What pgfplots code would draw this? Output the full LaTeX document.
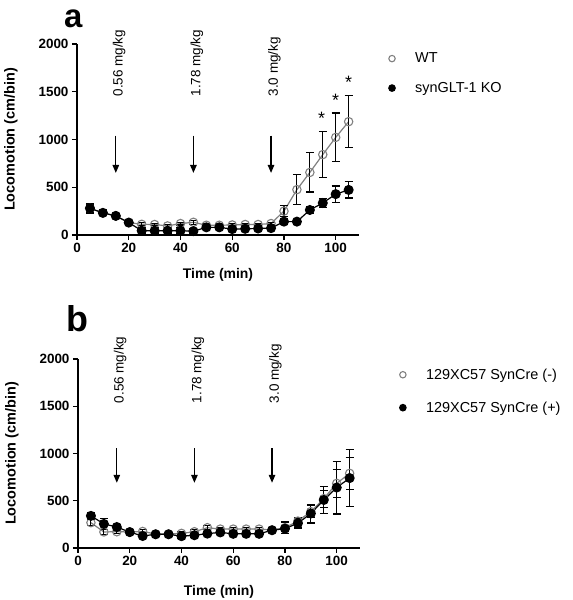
\documentclass[border=0pt]{standalone}
\usepackage{pgfplots}
\pgfplotsset{compat=1.18}
\usepackage{pgfplotstable}
\usepackage{fontspec}
\setmainfont{Liberation Sans}
\usetikzlibrary{arrows.meta}

\pgfplotstableread{
x y e
5 280 40
10 230 30
15 200 25
20 130 20
25 112 15
30 110 15
35 95 15
40 120 15
45 133 20
50 102 15
55 102 15
60 105 15
65 110 15
70 110 15
75 120 15
80 250 60
85 475 160
90 655 205
95 842 240
100 1022 255
105 1187 275
}\wta
\pgfplotstableread{
x y e
5 280 50
10 232 30
15 200 25
20 130 20
25 45 30
30 45 30
35 45 30
40 45 30
45 40 30
50 80 20
55 80 20
60 62 20
65 65 20
70 68 20
75 72 20
80 140 30
85 140 20
90 262 40
95 335 50
100 428 85
105 472 85
}\koa
\pgfplotstableread{
x y e
5 268 30
10 170 30
15 172 20
20 170 20
25 175 20
30 148 20
35 148 20
40 155 20
45 172 20
50 215 20
55 200 20
60 200 20
65 200 20
70 200 20
75 190 20
80 215 60
85 285 40
90 385 60
95 522 90
100 684 150
105 790 170
}\mib
\pgfplotstableread{
x y e
5 340 30
10 255 60
15 222 30
20 168 20
25 127 20
30 145 20
35 145 20
40 125 20
45 135 20
50 152 20
55 165 20
60 150 20
65 150 20
70 150 20
75 188 20
80 205 30
85 262 50
90 365 100
95 508 140
100 640 280
105 740 300
}\plb

\pgfplotsset{
 panel/.style={
  scale only axis, width=282bp,
  xmin=0, xmax=109, ymin=0, ymax=2000,
  axis lines*=left, axis line style={line width=1.3bp, black},
  xtick={0,20,...,100}, ytick={0,500,...,2000},
  tick align=outside, major tick length=5bp, tick style={line width=1.3bp, black},
  ticklabel style={font=\fontsize{13.5}{15}\selectfont\bfseries},
  /pgf/number format/assume math mode=true,
  /pgf/number format/1000 sep={},
  xlabel={Time (min)}, ylabel={Locomotion (cm/bin)},
  xlabel style={font=\fontsize{14}{16}\selectfont\bfseries},
  ylabel style={font=\fontsize{14.5}{16}\selectfont\bfseries, at={(axis description cs:-0.234,0.5)}, anchor=center},
  clip=false,
  legend style={draw=none, fill=none, font=\fontsize{14.5}{16}\selectfont, inner sep=0pt, row sep=14bp,
     /tikz/every odd column/.append style={column sep=18bp}},
  legend cell align=left,
  legend image code/.code={\draw[mark repeat=1,mark phase=1,##1, mark size=3.2bp] plot coordinates {(0cm,0cm)};},
 },
 ebars/.style={error bars/y dir=both, error bars/y explicit,
   error bars/error bar style={black, line width=1.1bp, solid},
   error bars/error mark=-,
   error bars/error mark options={rotate=90, black, line width=1.1bp, mark size=4bp}},
 openser/.style={gray, line width=1.2bp, mark=o, mark size=4.2bp, mark options={solid, draw=gray, line width=1.1bp}, ebars},
 fillser/.style={black, line width=1.2bp, mark=*, mark size=4.4bp, mark options={solid, fill=black, draw=black}, ebars},
}

\begin{document}
\begin{tikzpicture}
\useasboundingbox (0,0) rectangle (573bp,600bp);
\node[anchor=base west, font=\fontsize{33}{33}\selectfont\bfseries, inner sep=0pt] at (64bp,572bp) {a};
\node[anchor=base west, font=\fontsize{36}{36}\selectfont\bfseries, inner sep=0pt] at (66bp,268bp) {b};

\begin{axis}[panel, height=191bp, at={(77bp,365bp)}, anchor=south west,
  xlabel style={at={(axis description cs:0.5,-0.209)}, anchor=center},
  legend style={at={(1.105,0.965)}, anchor=north west}]
\addplot[openser] table[x=x,y=y,y error=e] {\wta};
\addlegendentry{WT}
\addplot[fillser] table[x=x,y=y,y error=e] {\koa};
\addlegendentry{synGLT-1 KO}
\foreach \xx/\lab in {15/0.56, 45/1.78, 75/3.0}{
  \edef\tmp{\noexpand\draw[black, line width=1.3bp, -{Triangle[length=8bp,width=6.5bp]}] (axis cs:\xx,1040) -- (axis cs:\xx,650);
  \noexpand\node[rotate=90, anchor=west, inner sep=0pt, font=\noexpand\fontsize{13.5}{15}\noexpand\selectfont] at (axis cs:\xx+1.3,1450) {\lab\space mg/kg};}
  \tmp
}
\node[font=\fontsize{18}{18}\selectfont, yshift=-4bp] at (axis cs:94.5,1267) {*};
\node[font=\fontsize{18}{18}\selectfont, yshift=-4bp] at (axis cs:100,1448) {*};
\node[font=\fontsize{18}{18}\selectfont, yshift=-4bp] at (axis cs:105,1638) {*};
\end{axis}

\begin{axis}[panel, height=189bp, at={(78bp,52bp)}, anchor=south west,
  xlabel style={at={(axis description cs:0.5,-0.233)}, anchor=center},
  legend style={at={(1.14,0.96)}, anchor=north west, row sep=17bp}]
\addplot[openser] table[x=x,y=y,y error=e] {\mib};
\addlegendentry{129XC57 SynCre (-)}
\addplot[fillser] table[x=x,y=y,y error=e] {\plb};
\addlegendentry{129XC57 SynCre (+)}
\foreach \xx/\lab in {15/0.56, 45/1.78, 75/3.0}{
  \edef\tmp{\noexpand\draw[black, line width=1.3bp, -{Triangle[length=8bp,width=6.5bp]}] (axis cs:\xx,1058) -- (axis cs:\xx,690);
  \noexpand\node[rotate=90, anchor=west, inner sep=0pt, font=\noexpand\fontsize{13.5}{15}\noexpand\selectfont] at (axis cs:\xx+1.3,1530) {\lab\space mg/kg};}
  \tmp
}
\end{axis}
\end{tikzpicture}
\end{document}
